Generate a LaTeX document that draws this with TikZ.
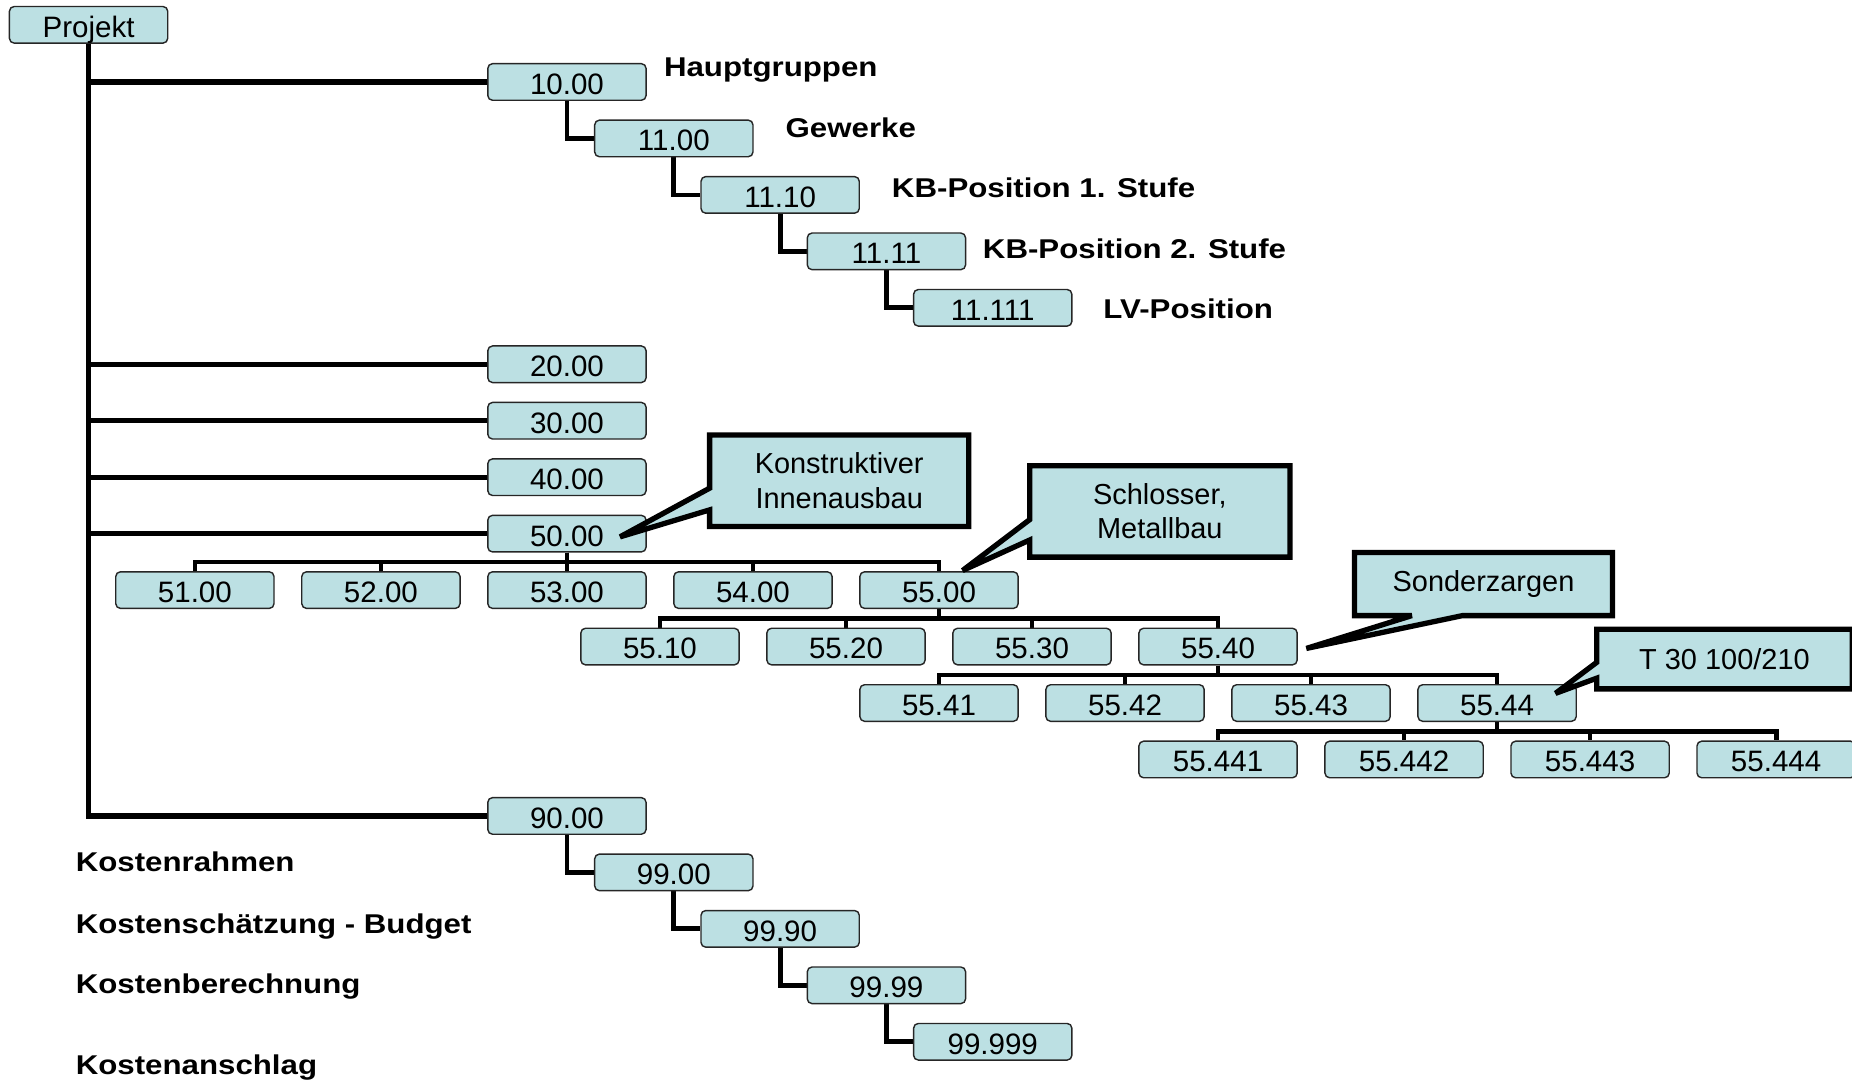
\documentclass[tikz,border=0pt]{standalone}
\usepackage{fontspec}
\setmainfont{Liberation Sans}
\newfontfamily\lblfont[FakeStretch=1.15]{Liberation Sans}
\usetikzlibrary{calc}
\definecolor{boxfill}{RGB}{188,224,227}
\pgfdeclarelayer{background}
\pgfdeclarelayer{cshape}
\pgfdeclarelayer{ctext}
\pgfsetlayers{background,main,cshape,ctext}

\tikzset{
  cbox/.style={draw=black!85, line width=1.2pt, fill=boxfill, rounded corners=4pt,
    minimum width=134pt, minimum height=31pt, inner sep=0pt,
    text height=21pt, text depth=0pt, font=\fontsize{25}{29}\selectfont},
  trunk/.style={line width=4.5pt},
  conn/.style={line width=4pt},
  lbl/.style={anchor=base west, inner sep=0pt, font=\lblfont\bfseries\fontsize{23}{27}\selectfont},
  ctxt/.style={inner sep=0pt, align=center, font=\fontsize{24.5}{29}\selectfont},
  callout/.style={draw=black, line width=4.5pt, fill=boxfill, line join=miter, miter limit=2}
}

\begin{document}
\begin{tikzpicture}[x=1pt,y=-1pt]
\useasboundingbox (0,0) rectangle (1568,916);

% root
\node[cbox] (proj) at (75,21) {Projekt};

% main groups and the 11 branch
\node[cbox] (g10)    at (480,69.4)    {10.00};
\node[cbox] (g11)    at (570.5,117.2) {11.00};
\node[cbox] (g1110)  at (660.5,165.0) {11.10};
\node[cbox] (g1111)  at (750.5,212.8) {11.11};
\node[cbox] (g11111) at (840.5,260.6) {11.111};
\node[cbox] (g20)    at (480,308.4)   {20.00};
\node[cbox] (g30)    at (480,356.2)   {30.00};
\node[cbox] (g40)    at (480,404.0)   {40.00};
\node[cbox] (g50)    at (480,451.8)   {50.00};

% 50 subtree
\node[cbox] (g51) at (165,499.6)   {51.00};
\node[cbox] (g52) at (322.5,499.6) {52.00};
\node[cbox] (g53) at (480,499.6)   {53.00};
\node[cbox] (g54) at (637.5,499.6) {54.00};
\node[cbox] (g55) at (795,499.6)   {55.00};

\node[cbox] (g5510) at (558.75,547.4)  {55.10};
\node[cbox] (g5520) at (716.25,547.4)  {55.20};
\node[cbox] (g5530) at (873.75,547.4)  {55.30};
\node[cbox] (g5540) at (1031.25,547.4) {55.40};

\node[cbox] (g5541) at (795,595.2)    {55.41};
\node[cbox] (g5542) at (952.5,595.2)  {55.42};
\node[cbox] (g5543) at (1110,595.2)   {55.43};
\node[cbox] (g5544) at (1267.5,595.2) {55.44};

\node[cbox] (g55441) at (1031.25,643) {55.441};
\node[cbox] (g55442) at (1188.75,643) {55.442};
\node[cbox] (g55443) at (1346.25,643) {55.443};
\node[cbox] (g55444) at (1503.75,643) {55.444};

% 90 branch
\node[cbox] (g90)    at (480,690.8)   {90.00};
\node[cbox] (g99)    at (570.5,738.6) {99.00};
\node[cbox] (g9990)  at (660.5,786.4) {99.90};
\node[cbox] (g9999)  at (750.5,834.2) {99.99};
\node[cbox] (g99999) at (840.5,882.0) {99.999};

% level labels
\node[lbl] (lHaupt) at (562,65)  {Hauptgruppen};
\node[lbl] (lGew)   at (665,116) {Gewerke};
\node[lbl] (lKB1)   at (755,167) {KB-Position 1. Stufe};
\node[lbl] (lKB2)   at (832,219) {KB-Position 2. Stufe};
\node[lbl] (lLV)    at (934,270) {LV-Position};
\node[lbl] (lKR)    at (64,738)  {Kostenrahmen};
\node[lbl] (lKS)    at (64,790)  {Kostenschätzung - Budget};
\node[lbl] (lKBe)   at (64,841)  {Kostenberechnung};
\node[lbl] (lKA)    at (64,910)  {Kostenanschlag};

% connectors
\begin{pgfonlayer}{background}
  \draw[trunk] (proj.south) |- (g90.west);
  \foreach \n in {g10,g20,g30,g40,g50}
    \draw[trunk] (proj.south |- \n.west) -- (\n.west);
  \foreach \p/\c in {g10/g11,g11/g1110,g1110/g1111,g1111/g11111,
                     g90/g99,g99/g9990,g9990/g9999,g9999/g99999}
    \draw[conn] (\p.south) |- (\c.west);
  \foreach \c in {g51,g52,g53,g54,g55}
    \draw[conn] (g50.south) -- ++(0,8) -| (\c.north);
  \foreach \c in {g5510,g5520,g5530,g5540}
    \draw[conn] (g55.south) -- ++(0,8) -| (\c.north);
  \foreach \c in {g5541,g5542,g5543,g5544}
    \draw[conn] (g5540.south) -- ++(0,8) -| (\c.north);
  \foreach \c in {g55441,g55442,g55443,g55444}
    \draw[conn] (g5544.south) -- ++(0,8) -| (\c.north);
\end{pgfonlayer}

% callouts: text
\begin{pgfonlayer}{ctext}
  \node[ctxt, minimum width=219pt, minimum height=77pt] (cKI) at (710.5,407) {Konstruktiver\\Innenausbau};
  \node[ctxt, minimum width=220pt, minimum height=77pt] (cSM) at (982,433) {Schlosser,\\Metallbau};
  \node[ctxt, minimum width=218pt, minimum height=53pt] (cSZ) at (1256,494.5) {Sonderzargen};
  \node[ctxt, minimum width=216pt, minimum height=50pt] (cT) at (1460,558) {T 30 100/210};
\end{pgfonlayer}

% callouts: frames with pointers
\begin{pgfonlayer}{cshape}
  \coordinate (tKI) at (525,454.5);
  \coordinate (tSM) at (815,483);
  \coordinate (tSZ) at (1106,549);
  \coordinate (tT)  at (1317,587);
  \draw[callout] (cKI.north west) -- (cKI.north east) -- (cKI.south east) -- (cKI.south west)
    -- ($(cKI.south west)+(0,-14)$) -- (tKI) -- ($(cKI.north west)+(0,45)$) -- cycle;
  \draw[callout] (cSM.north west) -- (cSM.north east) -- (cSM.south east) -- (cSM.south west)
    -- ($(cSM.south west)+(0,-14.5)$) -- (tSM) -- ($(cSM.north west)+(0,45.6)$) -- cycle;
  \draw[callout] (cSZ.north west) -- (cSZ.north east) -- (cSZ.south east)
    -- ($(cSZ.south east)+(-127,0)$) -- (tSZ) -- ($(cSZ.south west)+(48.5,0)$) -- (cSZ.south west) -- cycle;
  \draw[callout] (cT.north west) -- (cT.north east) -- (cT.south east) -- (cT.south west)
    -- ($(cT.south west)+(0,-9)$) -- (tT) -- ($(cT.north west)+(0,28)$) -- cycle;
\end{pgfonlayer}
\end{tikzpicture}
\end{document}
